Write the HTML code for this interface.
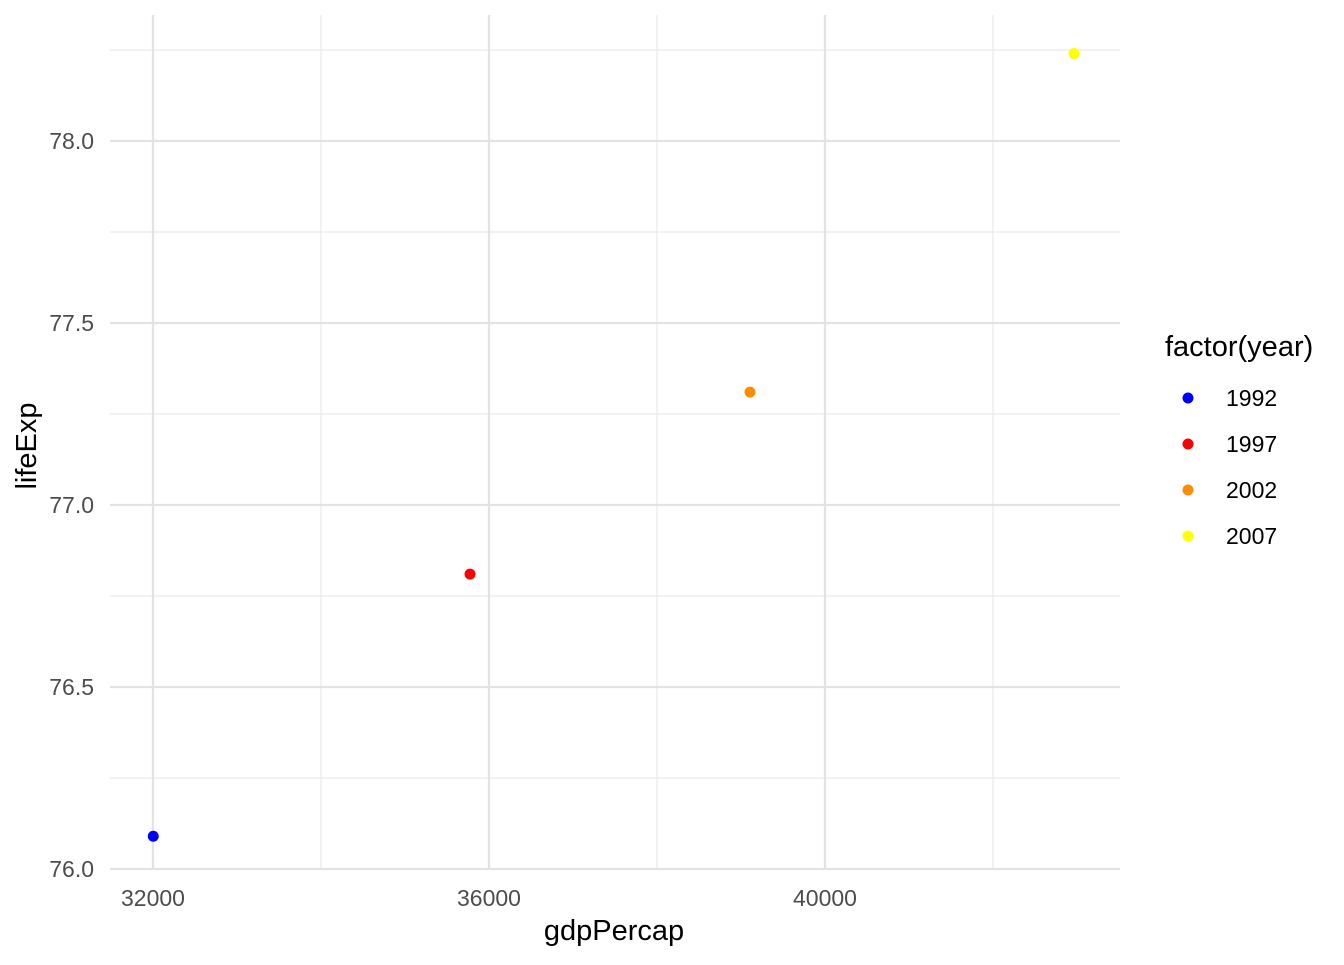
<!DOCTYPE html>
<html><head><meta charset="utf-8"><style>
body{margin:0;background:#fff;}
svg text{font-family:"Liberation Sans",Arial,sans-serif;}
</style></head><body>
<svg id="chart" width="1344" height="960" xmlns="http://www.w3.org/2000/svg">
<g id="grid"></g>
<g id="ticks"></g>
<g id="points"></g>
<text x="614" y="940" font-size="29" text-anchor="middle" fill="#000">gdpPercap</text>
<text transform="translate(36,446) rotate(-90)" font-size="29" text-anchor="middle" fill="#000">lifeExp</text>
<g id="legend">
<text x="1165" y="356" font-size="29" fill="#000">factor(year)</text>
</g>
</svg>
<script>
const years = ["1992","1997","2002","2007"];
const gdpValues = [32003, 35774, 39107, 42964];
const lifeValues = [76.09, 76.81, 77.31, 78.24];
const colors = ["#0000ff","#ff0000","#ff8c00","#ffff00"];
const xTicks = [32000, 36000, 40000];
const xMinor = [34000, 38000, 42000];
const yTicks = [76.0, 76.5, 77.0, 77.5, 78.0];
const yMinor = [76.25, 76.75, 77.25, 77.75, 78.25];

const NS = "http://www.w3.org/2000/svg";
const L = 110, R = 1120, T = 15, B = 870;
function xs(v){ return 153 + (v - 32000) * 0.084; }
function ys(v){ return 869 - (v - 76) * 364; }
function mk(tag, attrs, parent){ const e = document.createElementNS(NS, tag); for (const k in attrs) e.setAttribute(k, attrs[k]); parent.appendChild(e); return e; }

const grid = document.getElementById('grid');
yMinor.forEach(v => { const e = mk('line', {x1:L, x2:R, y1:ys(v), y2:ys(v), stroke:'#e6e6e6', 'stroke-width':1.1}, grid);

 });
xMinor.forEach(v => { const e = mk('line', {x1:xs(v), x2:xs(v), y1:T, y2:B, stroke:'#e6e6e6', 'stroke-width':1.1}, grid);

 });
yTicks.forEach(v => { const e = mk('line', {x1:L, x2:R, y1:ys(v), y2:ys(v), stroke:'#e3e3e3', 'stroke-width':2.2}, grid);

 });
xTicks.forEach(v => { const e = mk('line', {x1:xs(v), x2:xs(v), y1:T, y2:B, stroke:'#e3e3e3', 'stroke-width':2.2}, grid);

 });

const ticks = document.getElementById('ticks');
xTicks.forEach(v => { const t = mk('text', {x:xs(v), y:906, 'font-size':23, 'text-anchor':'middle', fill:'#4d4d4d'}, ticks); t.textContent = v;

 });
yTicks.forEach(v => { const t = mk('text', {x:94, y:ys(v)+8, 'font-size':23, 'text-anchor':'end', fill:'#4d4d4d'}, ticks); t.textContent = v.toFixed(1);

 });

const pts = document.getElementById('points');
gdpValues.forEach((g, i) => { const c = mk('circle', {cx:xs(g), cy:ys(lifeValues[i]), r:5.5, fill:colors[i]}, pts);

 });

const leg = document.getElementById('legend');
years.forEach((y, i) => {
  const cy = 398 + i * 46;
  const c = mk('circle', {cx:1188, cy:cy, r:5.5, fill:colors[i]}, leg);
  
  
  const t = mk('text', {x:1226, y:cy+8, 'font-size':23, fill:'#000'}, leg); t.textContent = y;
  
  
});
</script>
</body></html>
